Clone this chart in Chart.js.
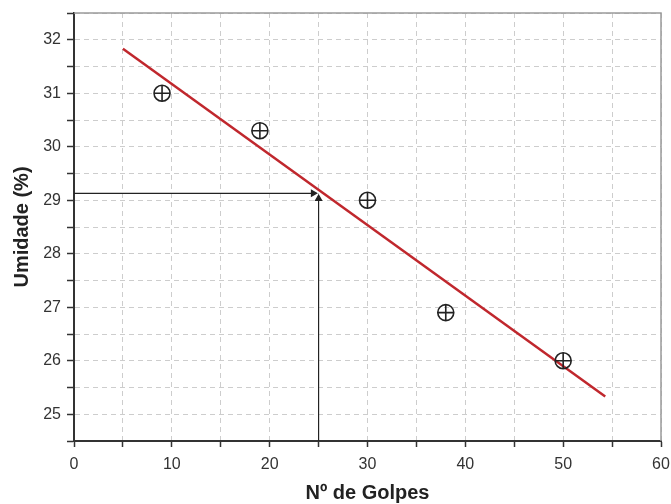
<!DOCTYPE html>
<html>
<head>
<meta charset="utf-8">
<script src="https://cdn.jsdelivr.net/npm/chart.js@4"></script>
<style>
  html, body { margin: 0; padding: 0; background: #fff; }
  #wrap { width: 671px; height: 504px; }
</style>
</head>
<body>
<div id="wrap"><canvas id="chart1"></canvas></div>
<script>
// measured points
var golpes = [9, 19, 30, 38, 50];
var umidade = [31.0, 30.3, 29.0, 26.9, 26.0];

// fitted line ends
var fitX = [5, 54.3];
var fitY = [31.83, 25.33];

// reading at 25 blows
var readX = 25;
var readY = 29.13;

var xTicks = [0, 10, 20, 30, 40, 50, 60];
var yTicks = [25, 26, 27, 28, 29, 30, 31, 32];

function pts(xs, ys) {
    return xs.map(function (x, i) { return { x: x, y: ys[i] }; });
}

var gridColor = '#cdcdcd';
var axisColor = '#333333';
var font = 'Liberation Sans, Arial, sans-serif';

// gray frame on top / right like the original plot box
var frame = {
    id: 'frame',
    afterDraw: function (chart) {
        var a = chart.chartArea, ctx = chart.ctx;
        ctx.save();
        ctx.strokeStyle = '#9a9a9a';
        ctx.lineWidth = 1.5;
        ctx.beginPath();
        ctx.moveTo(a.left, a.top);
        ctx.lineTo(a.right, a.top);
        ctx.lineTo(a.right, a.bottom);
        ctx.stroke();
        ctx.restore();
    }
};

var canvas = document.getElementById('chart1').getContext('2d');

new Chart(canvas, {
    type: 'scatter',
    data: {
        datasets: [{
            label: 'ajuste',
            type: 'line',
            data: pts(fitX, fitY),
            borderColor: '#c0272d',
            borderWidth: 2.5,
            pointRadius: 0,
            order: 3
        }, {
            label: 'horizontal',
            type: 'line',
            data: [{ x: 0, y: readY }, { x: readX - 0.55, y: readY }],
            borderColor: '#222',
            borderWidth: 1.2,
            pointStyle: 'triangle',
            rotation: 90,
            pointRadius: [0, 3.5],
            pointBackgroundColor: '#222',
            pointBorderColor: '#222',
            order: 2
        }, {
            label: 'vertical',
            type: 'line',
            data: [{ x: readX, y: 24.5 }, { x: readX, y: readY - 0.1 }],
            borderColor: '#222',
            borderWidth: 1.2,
            pointStyle: 'triangle',
            pointRadius: [0, 3.5],
            pointBackgroundColor: '#222',
            pointBorderColor: '#222',
            order: 2
        }, {
            label: 'ensaio',
            data: pts(golpes, umidade),
            pointStyle: 'circle',
            pointRadius: 8,
            borderColor: '#222',
            backgroundColor: 'rgba(0,0,0,0)',
            borderWidth: 1.6,
            order: 1
        }, {
            label: 'ensaio cruz',
            data: pts(golpes, umidade),
            pointStyle: 'cross',
            pointRadius: 8,
            borderColor: '#222',
            borderWidth: 1.6,
            order: 1
        }]
    },
    options: {
        responsive: true,
        maintainAspectRatio: false,
        animation: false,
        events: [],
        layout: { padding: { top: 13, right: 10, left: 0, bottom: 0 } },
        plugins: {
            legend: { display: false },
            tooltip: { enabled: false }
        },
        scales: {
            x: {
                type: 'linear',
                min: 0,
                max: 60,
                afterFit: function (s) {
                    s.height = 63;
                    s.paddingLeft = 0;
                    s.paddingRight = 0;
                },
                ticks: {
                    stepSize: 5,
                    autoSkip: false,
                    maxRotation: 0,
                    padding: 8,
                    color: '#333',
                    font: { family: font, size: 16 },
                    callback: function (v) { return xTicks.indexOf(v) >= 0 ? String(v) : ''; }
                },
                grid: {
                    color: gridColor,
                    lineWidth: 1,
                    tickColor: axisColor,
                    tickLength: 6,
                    tickWidth: 1.5,
                    tickBorderDash: []
                },
                border: { color: axisColor, width: 2, dash: [5, 4] },
                title: {
                    display: true,
                    text: 'Nº de Golpes',
                    color: '#222',
                    font: { family: font, size: 20, weight: 'bold', lineHeight: 1.1 },
                    padding: { top: 0, bottom: 0 }
                }
            },
            y: {
                type: 'linear',
                min: 24.5,
                max: 32.5,
                afterFit: function (s) {
                    s.width = 74;
                    s.paddingTop = 0;
                    s.paddingBottom = 0;
                },
                ticks: {
                    stepSize: 0.5,
                    autoSkip: false,
                    padding: 6,
                    color: '#333',
                    font: { family: font, size: 16 },
                    callback: function (v) { return yTicks.indexOf(v) >= 0 ? String(v) : ''; }
                },
                grid: {
                    color: gridColor,
                    lineWidth: 1,
                    tickColor: axisColor,
                    tickLength: 7,
                    tickWidth: 1.5,
                    tickBorderDash: []
                },
                border: { color: axisColor, width: 2, dash: [5, 4] },
                title: {
                    display: true,
                    text: 'Umidade (%)',
                    color: '#222',
                    font: { family: font, size: 20, weight: 'bold' },
                    padding: { top: 10, bottom: 0 }
                }
            }
        }
    },
    plugins: [frame]
});
</script>
</body>
</html>
